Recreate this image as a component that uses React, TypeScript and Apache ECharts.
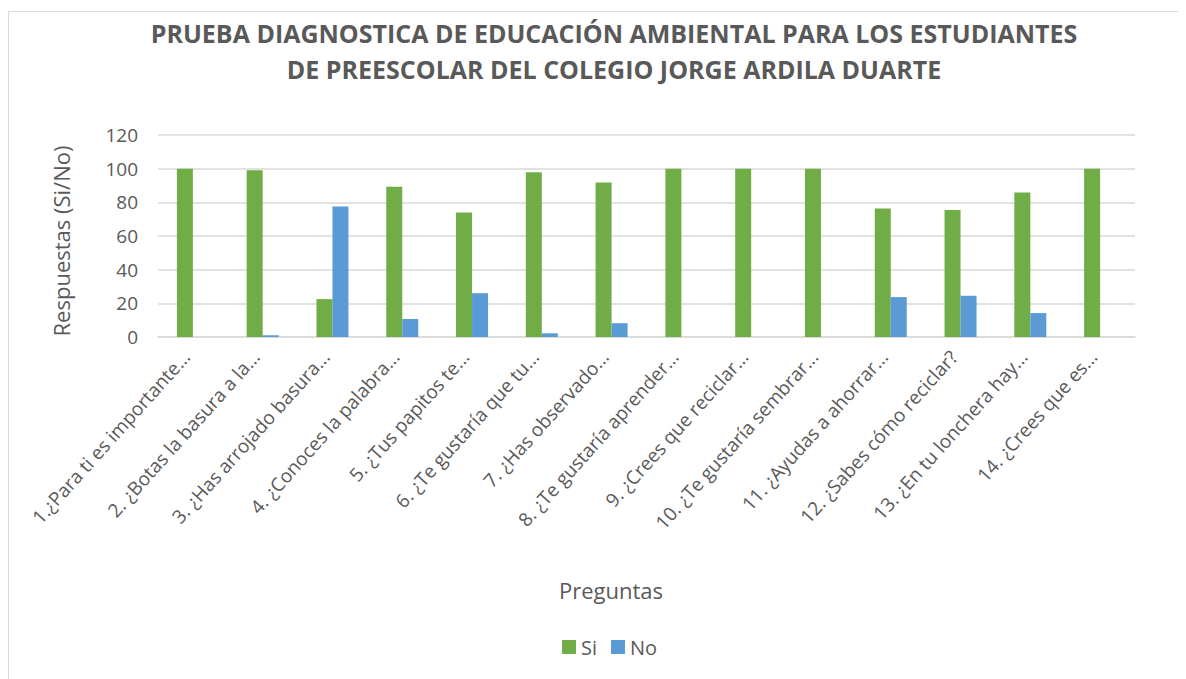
import React, { useEffect, useRef } from "react";
import * as echarts from "echarts";

const categories = [
  "1.¿Para ti es importante...",
  "2. ¿Botas la basura a la...",
  "3. ¿Has arrojado basura...",
  "4. ¿Conoces la palabra...",
  "5. ¿Tus papitos te...",
  "6. ¿Te gustaría que tu...",
  "7. ¿Has observado...",
  "8. ¿Te gustaría aprender...",
  "9. ¿Crees que reciclar...",
  "10. ¿Te gustaría sembrar...",
  "11. ¿Ayudas a ahorrar...",
  "12. ¿Sabes cómo reciclar?",
  "13. ¿En tu lonchera hay...",
  "14. ¿Crees que es...",
];
const siValues = [100, 99, 22.5, 89.3, 74, 97.8, 91.8, 100, 100, 100, 76.3, 75.5, 85.8, 100];
const noValues = [0, 1, 77.5, 10.7, 26, 2.2, 8.2, 0, 0, 0, 23.7, 24.5, 14.2, 0];
const yTicks = [0, 20, 40, 60, 80, 100, 120];

const titleLines = [
  "PRUEBA DIAGNOSTICA DE EDUCACIÓN AMBIENTAL PARA LOS ESTUDIANTES",
  "DE PREESCOLAR DEL COLEGIO JORGE ARDILA DUARTE",
];

const FONT = "'Open Sans', 'Noto Sans', sans-serif";
const GRAY = "#595959";

export default function App() {
  const ref = useRef<HTMLDivElement>(null);
  useEffect(() => {
    if (!ref.current) return;
    const chart = echarts.init(ref.current, null, { renderer: "svg" });
    chart.setOption({
      animation: false,
      backgroundColor: "#ffffff",
      textStyle: { fontFamily: FONT },
      graphic: [
        {
          type: "rect",
          shape: { x: 0.5, y: 3.5, width: 1300, height: 800 },
          style: { fill: "none", stroke: "#d9d9d9", lineWidth: 1 },
          silent: true,
        },
        {
          type: "text",
          x: 606,
          y: 25,
          style: {
            text: titleLines[0],
            fill: GRAY,
            font: `bold 25px ${FONT}`,
            textAlign: "center",
            textVerticalAlign: "middle",
          },
        },
        {
          type: "text",
          x: 606,
          y: 61,
          style: {
            text: titleLines[1],
            fill: GRAY,
            font: `bold 25px ${FONT}`,
            textAlign: "center",
            textVerticalAlign: "middle",
          },
        },
        {
          type: "text",
          x: 53,
          y: 233,
          rotation: Math.PI / 2,
          style: {
            text: "Respuestas (Si/No)",
            fill: GRAY,
            font: `22px ${FONT}`,
            textAlign: "center",
            textVerticalAlign: "middle",
          },
        },
        {
          type: "text",
          x: 603,
          y: 582,
          style: {
            text: "Preguntas",
            fill: GRAY,
            font: `22px ${FONT}`,
            textAlign: "center",
            textVerticalAlign: "middle",
          },
        },
      ],
      legend: {
        data: ["Si", "No"],
        left: 549,
        top: 624,
        itemWidth: 14,
        itemHeight: 14,
        itemGap: 14,
        icon: "rect",
        textStyle: { color: GRAY, fontSize: 20, fontFamily: FONT, padding: [0, 0, 0, 0] },
      },
      grid: {
        left: 150,
        right: 51,
        top: 127,
        bottom: 342,
        outerBoundsMode: "none",
        containLabel: false,
      },
      xAxis: {
        type: "category",
        data: categories,
        axisLine: { show: true, lineStyle: { color: "#d9d9d9", width: 1.5 } },
        axisTick: { show: false },
        axisLabel: {
          rotate: 48,
          interval: 0,
          color: GRAY,
          fontSize: 19,
          fontFamily: FONT,
          margin: 9,
          padding: [0, 10, 0, 0],
        },
      },
      yAxis: {
        type: "value",
        min: 0,
        max: 120,
        interval: 20,
        axisLine: { show: false },
        axisTick: { show: false },
        splitLine: { lineStyle: { color: "#d9d9d9", width: 1.5 } },
        axisLabel: {
          color: GRAY,
          fontSize: 19,
          fontFamily: FONT,
          margin: 20,
          formatter: (v: number) => (yTicks.includes(v) ? String(v) : ""),
        },
      },
      series: [
        {
          name: "Si",
          type: "bar",
          data: siValues,
          barWidth: 16,
          barGap: "0%",
          itemStyle: { color: "#70AD47" },
        },
        {
          name: "No",
          type: "bar",
          data: noValues,
          barWidth: 16,
          barGap: "0%",
          itemStyle: { color: "#5B9BD5" },
        },
      ],
    });
    return () => chart.dispose();
  }, []);
  return <div ref={ref} style={{ width: 1178, height: 671 }} />;
}
